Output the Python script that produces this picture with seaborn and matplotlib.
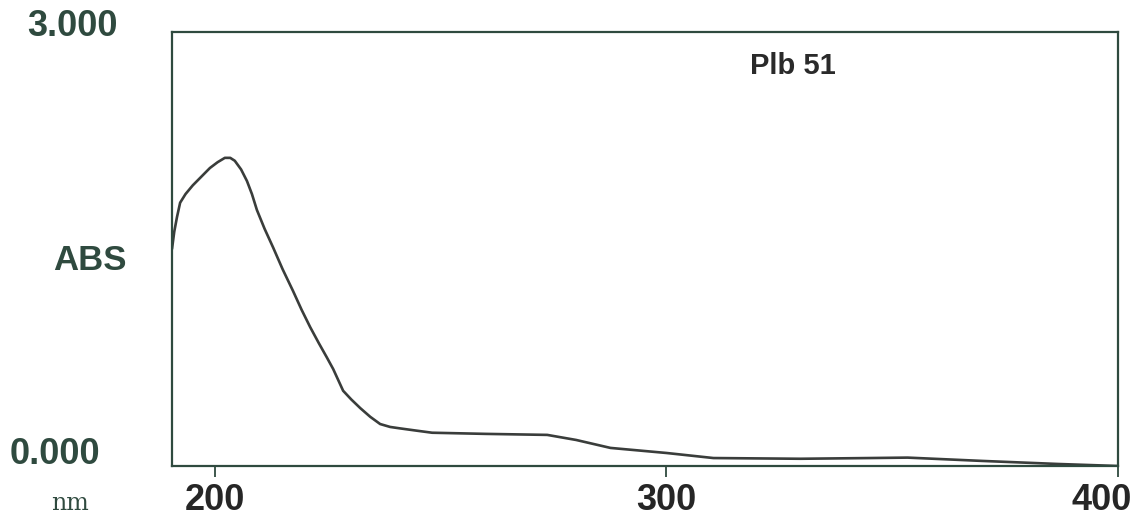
import matplotlib
matplotlib.use('Agg')

import matplotlib.pyplot as plt
import matplotlib.transforms as mtransforms
import seaborn as sns

# ---- data ----
wavelength = [190.5, 191.0, 191.6, 192.3, 193.5, 195.1, 197.0, 198.9, 200.6, 202.2,
              203.4, 204.4, 205.8, 207.1, 208.2, 209.3, 211.0, 212.9, 215.0, 217.3,
              219.2, 221.1, 223.0, 224.8, 226.2, 228.4, 230.2, 232.2, 234.4, 236.6,
              238.8, 241.0, 244.5, 248.1, 260.0, 273.6, 280.0, 287.6, 300.0, 310.4,
              329.7, 345.0, 353.4, 370.0, 386.7, 400.0]
absorbance = [1.50, 1.62, 1.72, 1.82, 1.88, 1.94, 2.00, 2.06, 2.10, 2.13,
              2.13, 2.11, 2.05, 1.97, 1.88, 1.77, 1.64, 1.51, 1.36, 1.21,
              1.08, 0.96, 0.85, 0.75, 0.67, 0.52, 0.46, 0.40, 0.34, 0.29,
              0.27, 0.26, 0.245, 0.23, 0.222, 0.215, 0.18, 0.125, 0.09, 0.055,
              0.05, 0.055, 0.058, 0.035, 0.014, 0.0]
x_ticks = [200, 300, 400]
x_ticklabels = ['200', '300', '400']

INK = '#2f4a3f'
LINE = '#3a3d3b'

sns.set_style('white')
plt.rcParams['font.family'] = ['Liberation Sans', 'DejaVu Sans']

fig = plt.figure(figsize=(11.37, 5.23), dpi=100)
ax = fig.add_axes([172 / 1137, 57 / 523, 946 / 1137, 434 / 523])

sns.lineplot(x=wavelength, y=absorbance, sort=False, estimator=None,
             color=LINE, linewidth=1.9, ax=ax)

ax.set_xlim(190.5, 400)
ax.set_ylim(0, 3.0)
for side in ax.spines.values():
    side.set_color(INK)
    side.set_linewidth(1.6)

ax.set_xticks(x_ticks)
ax.set_xticklabels(x_ticklabels, fontsize=26, fontweight='bold', color='#262626')
ax.tick_params(axis='x', direction='out', length=8, width=1.3, color=INK, pad=4.5,
               bottom=True)
ax.set_yticks([])

# shift the last label left so it stays inside the page
last = ax.get_xticklabels()[-1]
last.set_transform(last.get_transform() +
                   mtransforms.ScaledTranslation(-16 / 100, 0, fig.dpi_scale_trans))

# y labels are placed as free text like on the instrument print-out
fig.text(118 / 1137, 1 - 27 / 523, '3.000', ha='right', va='center',
         fontsize=26, fontweight='bold', color=INK)
fig.text(100 / 1137, 1 - 455 / 523, '0.000', ha='right', va='center',
         fontsize=26, fontweight='bold', color=INK)
fig.text(127 / 1137, 1 - 260 / 523, 'ABS', ha='right', va='center',
         fontsize=25, fontweight='bold', color=INK)
fig.text(70 / 1137, 1 - 504 / 523, 'nm', ha='center', va='center',
         fontsize=17, family='DejaVu Serif', color=INK)

fig.text(793 / 1137, 1 - 66 / 523, 'Plb 51', ha='center', va='center',
         fontsize=21, fontweight='bold', color='#2a2a2a')

fig.savefig('out.png', dpi=100, facecolor='white')
plt.close()
